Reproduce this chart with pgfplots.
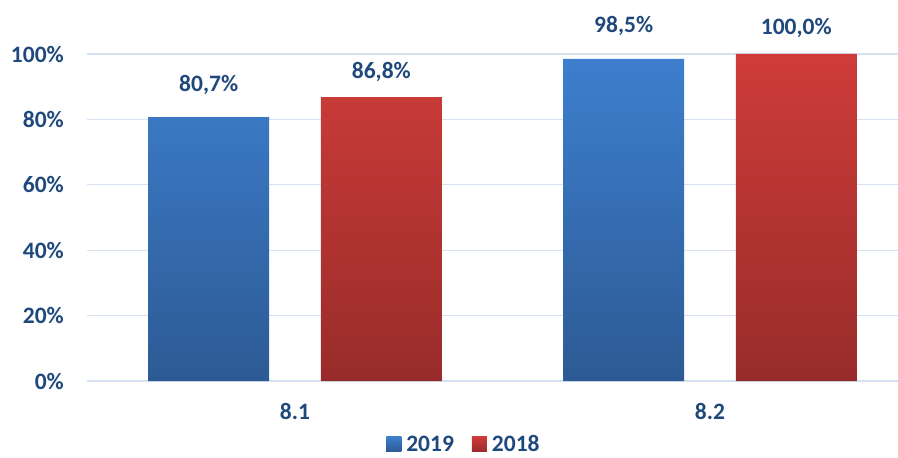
\documentclass[border=0pt]{standalone}
\usepackage{pgfplots}
\pgfplotsset{compat=1.18}
\usepackage{fontspec}
\setmainfont{Carlito}
\definecolor{txt}{HTML}{1F497D}
\definecolor{gridc}{HTML}{D6E2F2}
\definecolor{blueT}{HTML}{3D7FCE}
\definecolor{blueB}{HTML}{2D5A94}
\definecolor{redT}{HTML}{CE3C39}
\definecolor{redB}{HTML}{982C2A}
\newcommand\lblfont{\fontsize{23.5}{25}\selectfont\bfseries}
\begin{document}
\begin{tikzpicture}
\useasboundingbox (-87.5pt,-77pt) rectangle (810.5pt,381pt);
\begin{axis}[
  at={(0pt,0pt)}, anchor=south west,
  scale only axis, width=810.5pt, height=327pt,
  xmin=-0.5, xmax=1.453, ymin=0, ymax=100,
  clip=false,
  ybar, bar width=0.2916,
  axis line style={draw=none},
  major tick length=0pt,
  ytick={0,20,...,100},
  ymajorgrids, grid style={color=gridc, line width=1.3pt},
  xtick={0,1}, xticklabels={8.1,8.2},
  /pgf/number format/assume math mode=true,
  yticklabel={\pgfmathprintnumber{\tick}\%},
  tick label style={font=\lblfont, text=txt},
  yticklabel style={inner sep=0pt, anchor=east, xshift=-23.5pt},
  xticklabel style={inner sep=0pt, anchor=north, yshift=-22pt},
  nodes near coords={\pgfmathprintnumber[fixed, fixed zerofill, precision=1, use comma]{\pgfplotspointmeta}\%},
  every node near coord/.append style={font=\lblfont, text=txt, inner sep=0pt, anchor=base},
  legend style={at={(0.4645,-0.193)}, anchor=center, draw=none, fill=none,
    inner sep=1pt, font=\lblfont, text=txt, legend columns=2,
    /tikz/every odd column/.append style={column sep=3pt},
    /tikz/every even column/.append style={column sep=16pt}},
  legend image code/.code={\fill[#1] (0pt,-7.5pt) rectangle (15pt,7.5pt);},
]
\addplot[draw=none, top color=blueT, bottom color=blueB, bar shift=-0.208,
  every node near coord/.append style={yshift=26pt}]
  coordinates {(0,80.7) (1,98.5)};
\addplot[draw=none, top color=redT, bottom color=redB, bar shift=0.208,
  every node near coord/.append style={yshift=19pt}]
  coordinates {(0,86.8) (1,100.0)};
\legend{2019,2018}
\end{axis}
\end{tikzpicture}
\end{document}
